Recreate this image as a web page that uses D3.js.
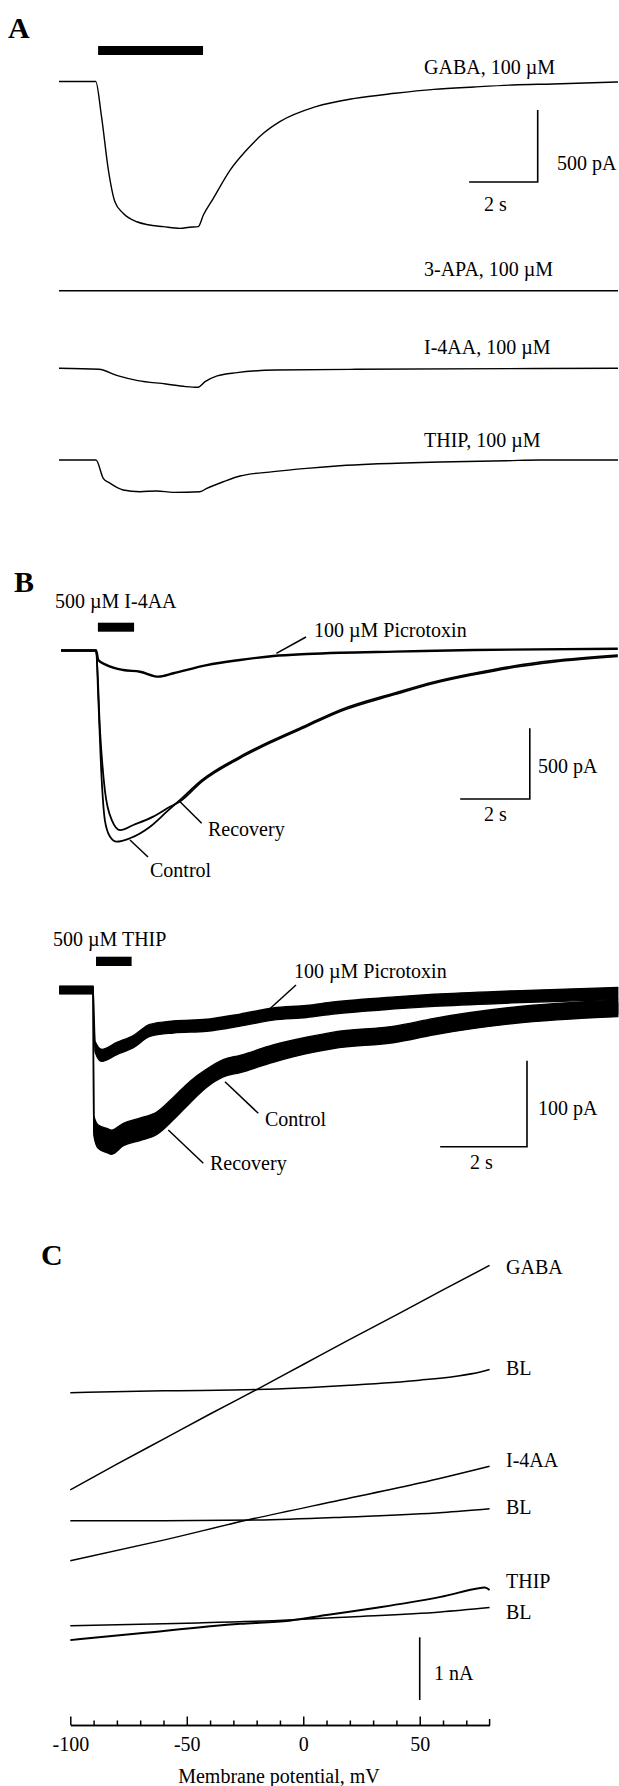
<!DOCTYPE html>
<html>
<head>
<meta charset="utf-8">
<script src="https://cdn.jsdelivr.net/npm/d3@7"></script>
<style>
  body { margin: 0; background: #fff; }
  svg text { font-family: "Liberation Serif", "Times New Roman", serif; font-size: 20px; fill: #000; }
  svg text.panel { font-weight: bold; font-size: 30px; }
</style>
</head>
<body>
<svg width="619" height="1786"></svg>
<script>
// ---------- Panel A: 100 uM agonists, [time s, current pA] ----------
const aGaba = [[0,0],[1.07,0],[1.24,-244],[1.44,-615],[1.63,-835],[1.87,-915],[2.27,-974],[2.6,-995],[3.04,-1008],[3.53,-1020],[3.8,-1012],[4.06,-1008],[4.21,-927],[4.5,-811],[4.99,-615],[5.47,-476],[5.96,-360],[6.44,-279],[7.49,-175],[8.63,-117],[9.8,-82],[10.93,-55],[12.1,-38],[13.24,-24],[14.4,-17],[16.3,-3]];
const a3apa = [[0,0],[16.3,0]];
const aI4aa = [[0,0],[1.16,-7],[1.73,-53],[2.3,-86],[3.12,-109],[3.69,-127],[4.04,-132],[4.26,-93],[4.61,-53],[5.19,-30],[6.32,-12],[8.63,-7],[16.3,0]];
const aThip = [[0,0],[1.08,0],[1.29,-127],[1.49,-162],[1.87,-208],[2.36,-220],[2.85,-215],[3.33,-225],[4.11,-220],[4.31,-197],[4.79,-151],[5.28,-111],[6.25,-81],[7.22,-58],[8.19,-40],[9.16,-28],[11.11,-14],[13.05,-5],[14.02,0],[16.3,0]];
const aLabels = ["GABA, 100 µM", "3-APA, 100 µM", "I-4AA, 100 µM", "THIP, 100 µM"];
const aApp = [1.14, 4.2];          // application bar, s
const aScale = [2, 500];           // s, pA

// ---------- Panel B (top): 500 uM I-4AA ----------
const b1Picro = [[0,0],[1.01,0],[1.07,-67],[1.31,-103],[1.79,-138],[2.27,-150],[2.8,-185],[3.23,-161],[4.19,-103],[5.14,-67],[6.1,-39],[7.06,-25],[8.02,-16],[9.59,-8],[11.86,4],[16,12]];
const b1Control = [[0,0],[1.01,0],[1.07,-327],[1.17,-916],[1.26,-1199],[1.41,-1317],[1.6,-1352],[1.98,-1328],[2.56,-1246],[3.04,-1140],[3.42,-1057],[4.05,-916],[5.14,-751],[6.1,-633],[7.06,-527],[8.02,-421],[9.59,-301],[10.73,-221],[11.86,-161],[12.99,-110],[14.13,-72],[16,-32]];
const b1Recovery = [[0,0],[1.01,0],[1.12,-562],[1.26,-987],[1.46,-1199],[1.7,-1270],[2.08,-1234],[2.65,-1175],[3.13,-1105],[3.42,-1067],[4.05,-926],[5.14,-761],[6.1,-643],[7.06,-537],[8.02,-431],[9.59,-311],[10.73,-231],[11.86,-171],[12.99,-120],[14.13,-82],[16,-42]];
const b1App = [1.06, 2.1];
const b1Scale = [2, 500];

// ---------- Panel B (bottom): 500 uM THIP, [time s, mean pA, noise half-width pA] ----------
const b2Picro = [[0,0,4],[0.76,0,4],[0.81,-66,6],[0.96,-76,7],[1.31,-68,7],[1.69,-60,7],[2.07,-47,7],[2.61,-43,7],[3.38,-41,7],[4.15,-35,7],[4.91,-28,7],[5.68,-25,7],[6.3,-21,7],[7.71,-15,7],[8.62,-12,7],[10.44,-8,7],[12.85,-4,7]];
const b2Control = [[0,0,4],[0.76,0,4],[0.78,-155,9],[0.88,-166,9],[1.08,-170,9],[1.19,-172,9],[1.46,-164,9],[1.84,-158,9],[2.23,-151,9],[2.61,-134,9],[3.0,-115,9],[3.38,-100,8],[3.76,-89,8],[4.15,-84,8],[4.91,-72,8],[5.68,-63,8],[6.3,-57,8],[7.71,-50,8],[8.62,-41,8],[10.44,-28,8],[12.85,-20,8]];
const b2Recovery = [[0,0,4],[0.76,0,4],[0.78,-160,9],[0.88,-174,10],[1.08,-179,10],[1.19,-181,10],[1.46,-172,9],[1.84,-166,9],[2.23,-159,9],[2.61,-142,9],[3.0,-122,9],[3.38,-105,8],[3.76,-93,8],[4.15,-88,8],[4.91,-76,8],[5.68,-66,8],[6.3,-60,8],[7.71,-53,8],[8.62,-44,8],[10.44,-31,8],[12.85,-23,8]];
const b2App = [0.83, 1.65];
const b2Scale = [2, 100];

// ---------- Panel C: I-V ramps, [membrane potential mV, current nA] ----------
const cGaba = [[-100,-1.55],[-80,-1.14],[-60,-0.74],[-40,-0.34],[-20,0.05],[0,0.45],[20,0.85],[40,1.24],[60,1.64],[80,2.03]];
const cBl1 = [[-100,0],[-60,0.03],[-20,0.05],[20,0.12],[50,0.2],[65,0.26],[76,0.33],[80,0.37]];
const cI4aa = [[-100,-0.64],[-60,-0.31],[-24,0.01],[16,0.33],[50,0.6],[80,0.87]];
const cBl2 = [[-100,0],[-60,0],[-20,0.01],[20,0.06],[60,0.13],[80,0.19]];
const cThip = [[-100,-0.23],[-70,-0.12],[-27,0.03],[-6,0.08],[10,0.17],[30,0.28],[44,0.36],[59,0.46],[76,0.6],[78,0.61],[80,0.57]];
const cBl3 = [[-100,0],[-50,0.04],[-13,0.08],[20,0.14],[59,0.22],[80,0.29]];
const cLabels = ["GABA", "BL", "I-4AA", "BL", "THIP", "BL"];
const cMajor = [-100, -50, 0, 50];
const cMinor = [-90,-80,-70,-60,-40,-30,-20,-10,10,20,30,40,60,70];
const cScaleNa = 1;

var svg = d3.select("svg");
svg.append("rect").attr("width", 619).attr("height", 1786).attr("fill", "#fff");

function trace(g, data, x, y, w) {
    g.append("path")
     .datum(data)
     .attr("d", d3.line().x(d => x(d[0])).y(d => y(d[1])).curve(d3.curveMonotoneX))
     .attr("fill", "none")
     .attr("stroke", "#000")
     .attr("stroke-width", w)
     .attr("stroke-linejoin", "round");
}

function band(g, data, x, y) {
    g.append("path")
     .datum(data)
     .attr("d", d3.area().x(d => x(d[0])).y0(d => y(d[1] - d[2])).y1(d => y(d[1] + d[2])).curve(d3.curveMonotoneX))
     .attr("fill", "#000")
     .attr("stroke", "#000")
     .attr("stroke-width", 1.4);
}

function text(x, y, s, anchor) {
    svg.append("text").attr("x", x).attr("y", y).attr("text-anchor", anchor || "start").text(s);
}

function leader(x1, y1, x2, y2) {
    svg.append("line").attr("x1", x1).attr("y1", y1).attr("x2", x2).attr("y2", y2)
       .attr("stroke", "#000").attr("stroke-width", 1.5);
}

function scaleBar(cx, cy, len, hgt) {
    svg.append("path")
       .attr("d", "M" + (cx - len) + "," + cy + "H" + cx + "V" + (cy - hgt))
       .attr("fill", "none").attr("stroke", "#000").attr("stroke-width", 1.6);
}

// ================= Panel A =================
svg.append("text").attr("class", "panel").attr("x", 8).attr("y", 38).text("A");

var xA = d3.scaleLinear().domain([0, 16.3]).range([59, 618]);
var yA = d3.scaleLinear().domain([0, -500]).range([0, 72]);

svg.append("rect")
   .attr("x", xA(aApp[0])).attr("y", 46)
   .attr("width", xA(aApp[1]) - xA(aApp[0])).attr("height", 9)
   .attr("fill", "#000");

var aBase = [81.5, 290.7, 368.3, 460];
var aLabelY = [74, 276, 354, 447];
[aGaba, a3apa, aI4aa, aThip].forEach(function(d, i) {
    var g = svg.append("g").attr("transform", "translate(0," + aBase[i] + ")");
    trace(g, d, xA, yA, 1.4);
    text(424, aLabelY[i], aLabels[i]);
});

scaleBar(537.7, 182, xA(aScale[0]) - xA(0), yA(-aScale[1]));
text(557, 170, aScale[1] + " pA");
text(484, 211, aScale[0] + " s");

// ================= Panel B, I-4AA =================
svg.append("text").attr("class", "panel").attr("x", 14).attr("y", 592).text("B");
text(55, 608, "500 µM I-4AA");

var xB1 = d3.scaleLinear().domain([0, 16]).range([61, 617.8]);
var yB1 = d3.scaleLinear().domain([0, -500]).range([0, 70.7]);

svg.append("rect")
   .attr("x", xB1(b1App[0])).attr("y", 622.7)
   .attr("width", xB1(b1App[1]) - xB1(b1App[0])).attr("height", 9)
   .attr("fill", "#000");

var gB1 = svg.append("g").attr("transform", "translate(0,650.5)");
trace(gB1, b1Picro, xB1, yB1, 2.4);
trace(gB1, b1Control, xB1, yB1, 1.8);
trace(gB1, b1Recovery, xB1, yB1, 1.8);

text(314, 637, "100 µM Picrotoxin");
leader(306, 637, 276.4, 653.3);
text(208, 836, "Recovery");
leader(180, 801.7, 201.7, 823.3);
text(150, 877, "Control");
leader(130, 840, 148, 857);

scaleBar(529.8, 799, xB1(b1Scale[0]) - xB1(0), yB1(-b1Scale[1]));
text(538, 773, b1Scale[1] + " pA");
text(484, 821, b1Scale[0] + " s");

// ================= Panel B, THIP =================
text(53, 946, "500 µM THIP");

var xB2 = d3.scaleLinear().domain([0, 12.85]).range([60, 617.7]);
var yB2 = d3.scaleLinear().domain([0, -100]).range([0, 86]);

svg.append("rect")
   .attr("x", xB2(b2App[0])).attr("y", 956.7)
   .attr("width", xB2(b2App[1]) - xB2(b2App[0])).attr("height", 9.3)
   .attr("fill", "#000");

var gB2 = svg.append("g").attr("transform", "translate(0,990)");
band(gB2, b2Picro, xB2, yB2);
band(gB2, b2Control, xB2, yB2);
band(gB2, b2Recovery, xB2, yB2);

text(294, 978, "100 µM Picrotoxin");
leader(296, 985, 268.5, 1010);
text(265, 1126, "Control");
leader(225, 1081.7, 258.3, 1113.3);
text(210, 1170, "Recovery");
leader(168.3, 1130, 203.3, 1163.3);

scaleBar(527, 1146.7, xB2(b2Scale[0]) - xB2(0), yB2(-b2Scale[1]));
text(538, 1115, b2Scale[1] + " pA");
text(470, 1169, b2Scale[0] + " s");

// ================= Panel C =================
svg.append("text").attr("class", "panel").attr("x", 41).attr("y", 1265).text("C");

var xC = d3.scaleLinear().domain([-100, 80]).range([70.3, 489.6]);
var yC = d3.scaleLinear().domain([0, 1]).range([0, -62.7]);

var cGroups = [[cGaba, cBl1, 1392.7], [cI4aa, cBl2, 1520.7], [cThip, cBl3, 1625.7]];
cGroups.forEach(function(grp, i) {
    var g = svg.append("g").attr("transform", "translate(0," + grp[2] + ")");
    trace(g, grp[0], xC, yC, i == 2 ? 2 : 1.5);
    trace(g, grp[1], xC, yC, 1.5);
});

var cLabelY = [1274, 1375, 1467, 1514, 1588, 1619];
cLabels.forEach(function(s, i) { text(506, cLabelY[i], s); });

// 1 nA scale bar at +50 mV
svg.append("line")
   .attr("x1", xC(50)).attr("x2", xC(50))
   .attr("y1", 1700).attr("y2", 1700 + yC(cScaleNa))
   .attr("stroke", "#000").attr("stroke-width", 1.6);
text(434, 1680, cScaleNa + " nA");

var axisG = svg.append("g").attr("transform", "translate(0,1725)");
axisG.call(d3.axisBottom(xC)
               .tickValues(cMajor)
               .tickSize(-8.5)
               .tickSizeOuter(0)
               .tickPadding(12)
               .tickFormat(d => String(d)));
axisG.append("g").call(d3.axisBottom(xC)
               .tickValues(cMinor)
               .tickSize(-4.5)
               .tickSizeOuter(0)
               .tickFormat(""));
axisG.append("line").attr("x1", xC(80)).attr("x2", xC(80)).attr("y1", 0).attr("y2", -6)
     .attr("stroke", "#000").attr("stroke-width", 1.5);
axisG.selectAll("path.domain").attr("stroke-width", 1.6);
axisG.selectAll("line").attr("stroke-width", 1.5);
axisG.selectAll("text")
     .style("font-family", "'Liberation Serif', serif")
     .style("font-size", "20px");

text(279, 1783, "Membrane potential, mV", "middle");
</script>
</body>
</html>
